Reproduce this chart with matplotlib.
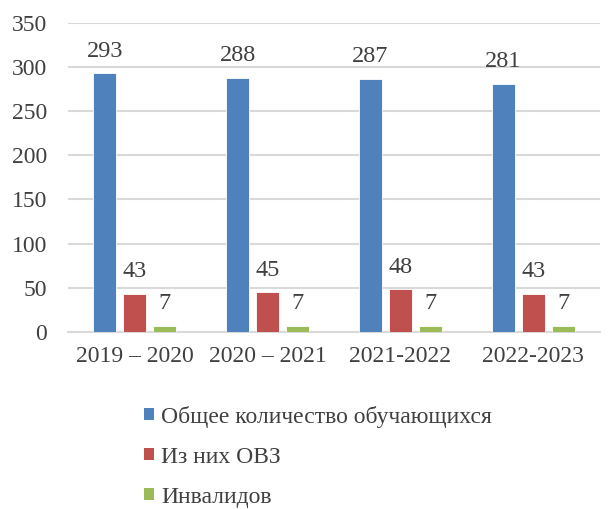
import numpy as np
import matplotlib.pyplot as plt
from matplotlib.patches import Patch

plt.rcParams['font.family'] = ['Liberation Serif', 'DejaVu Serif']

years = ['2019 – 2020', '2020 – 2021', '2021-2022', '2022-2023']
total = [293, 288, 287, 281]
ovz = [43, 45, 48, 43]
invalid = [7, 7, 7, 7]
series_names = ['Общее количество обучающихся', 'Из них ОВЗ', 'Инвалидов']
colors = ['#4F81BD', '#C0504D', '#9BBB59']
txt = '#404040'

fig = plt.figure(figsize=(6.09, 5.09), dpi=100)
ax = fig.add_axes([0.112, 0.348, 0.873, 0.607])

x = np.arange(len(years))
w = 0.175
step = 0.225
for i, (vals, c) in enumerate(zip([total, ovz, invalid], colors)):
    pos = x + (i - 1) * step
    ax.bar(pos, vals, width=w, color=c, edgecolor='white', linewidth=0.6, zorder=3)
    for p, v in zip(pos, vals):
        ax.text(p, v + 13, str(v), ha='center', va='bottom', fontsize=17.5, color=txt)

ax.set_xlim(-0.5, len(years) - 0.5)
ax.set_ylim(0, 350)
ax.set_yticks(range(0, 351, 50))
ax.set_xticks(x)
ax.set_xticklabels(years)
ax.tick_params(axis='both', length=0, labelsize=17, colors=txt)
ax.tick_params(axis='x', pad=10)
ax.tick_params(axis='y', pad=15)
ax.grid(axis='y', color='#D9D9D9', linewidth=1.5, zorder=0)
for s in ['top', 'right', 'left']:
    ax.spines[s].set_visible(False)
ax.spines['bottom'].set_color('#D9D9D9')
ax.spines['bottom'].set_linewidth(1.5)

handles = [Patch(facecolor=c) for c in colors]
fig.legend(handles, series_names, loc='upper left', bbox_to_anchor=(0.217, 0.226),
           frameon=False, fontsize=17, labelcolor=txt, handlelength=0.42,
           handleheight=0.42, handletextpad=0.3, labelspacing=0.8, borderpad=0)

fig.savefig('out.png', dpi=100)
